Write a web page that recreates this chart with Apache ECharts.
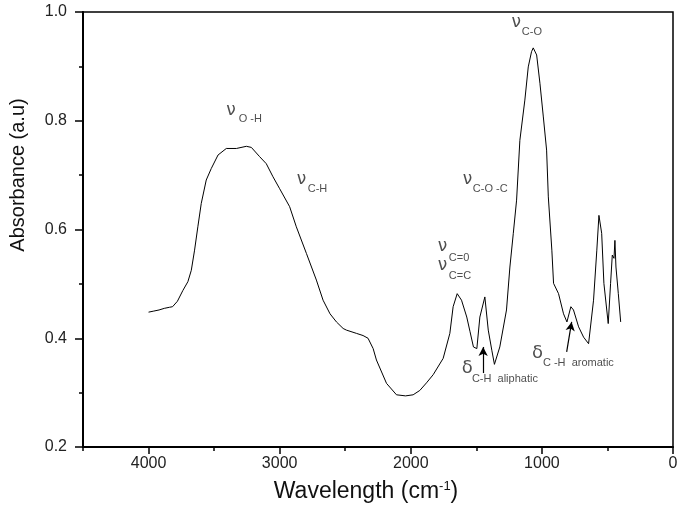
<!DOCTYPE html>
<html><head><meta charset="utf-8">
<script src="https://cdn.jsdelivr.net/npm/echarts@6/dist/echarts.min.js"></script>
<style>html,body{margin:0;padding:0;background:#fff}#c{width:685px;height:510px}</style>
</head><body><div id="c"></div>
<script>
// Wavenumber (cm-1) and absorbance
var wavenumber = [4000, 3960, 3920, 3880, 3840, 3817, 3780, 3738, 3700, 3674, 3649, 3624, 3598, 3560, 3522, 3470, 3407, 3330, 3254, 3216, 3153, 3102, 3051, 3000, 2924, 2873, 2796, 2720, 2669, 2616, 2567, 2516, 2491, 2415, 2364, 2326, 2287, 2262, 2185, 2109, 2040, 1982, 1931, 1880, 1829, 1753, 1702, 1677, 1646, 1613, 1573, 1548, 1522, 1496, 1473, 1435, 1409, 1382, 1362, 1321, 1270, 1244, 1218, 1193, 1168, 1130, 1104, 1079, 1066, 1040, 1015, 989, 964, 951, 924, 911, 873, 835, 809, 779, 759, 720, 682, 644, 606, 581, 565, 544, 527, 494, 476, 463, 450, 443, 435, 417, 399];
var absorbance = [0.448, 0.450, 0.452, 0.455, 0.457, 0.458, 0.468, 0.488, 0.504, 0.525, 0.562, 0.605, 0.648, 0.691, 0.712, 0.737, 0.749, 0.749, 0.753, 0.751, 0.734, 0.721, 0.697, 0.675, 0.642, 0.605, 0.556, 0.507, 0.470, 0.445, 0.430, 0.418, 0.415, 0.409, 0.405, 0.400, 0.381, 0.360, 0.317, 0.296, 0.294, 0.296, 0.304, 0.318, 0.333, 0.363, 0.409, 0.458, 0.482, 0.470, 0.439, 0.412, 0.384, 0.381, 0.439, 0.476, 0.415, 0.378, 0.352, 0.384, 0.452, 0.531, 0.593, 0.654, 0.764, 0.838, 0.899, 0.927, 0.934, 0.921, 0.869, 0.807, 0.746, 0.660, 0.562, 0.501, 0.482, 0.445, 0.430, 0.458, 0.452, 0.421, 0.402, 0.390, 0.470, 0.562, 0.626, 0.593, 0.501, 0.427, 0.501, 0.553, 0.547, 0.580, 0.531, 0.482, 0.430];

// Band annotations: Greek symbol, subscript, anchor positions (data coords)
var annSymbol = ['ν', 'ν', 'ν', 'ν', 'ν', 'ν', 'δ', 'δ'];
var annSub = ['O -H', 'C-H', 'C-O', 'C-O -C', 'C=0', 'C=C', 'C-H  aliphatic', 'C -H  aromatic'];
var annSymX = [3407, 2870, 1231, 1603, 1794, 1794, 1611, 1076];
var annSymY = [0.819, 0.691, 0.980, 0.691, 0.568, 0.534, 0.345, 0.372];
var annSubX = [3313, 2786, 1153, 1527, 1710, 1710, 1534, 992];
var annSubY = [0.803, 0.674, 0.964, 0.674, 0.547, 0.514, 0.325, 0.354];
var annIsDelta = [false, false, false, false, false, false, true, true];

// Arrows: from (x1,y1) to (x2,y2)
var arrowX1 = [1448, 811], arrowY1 = [0.336, 0.375];
var arrowX2 = [1448, 773], arrowY2 = [0.384, 0.430];

var font = 'Liberation Sans, Arial, sans-serif';
var lineData = wavenumber.map(function (w, i) { return [w, absorbance[i]]; });
var symData = annSymbol.map(function (s, i) {
  return { value: [annSymX[i], annSymY[i]], label: { formatter: s, fontSize: annIsDelta[i] ? 18 : 17 } };
});
var subData = annSub.map(function (s, i) {
  return { value: [annSubX[i], annSubY[i]], label: { formatter: s } };
});
var arrowData = arrowX1.map(function (x, i) {
  return [{ coord: [x, arrowY1[i]] }, { coord: [arrowX2[i], arrowY2[i]] }];
});

var chart = echarts.init(document.getElementById('c'), null, { renderer: 'canvas' });
chart.setOption({
  animation: false,
  backgroundColor: '#fff',
  grid: { left: 83, right: 12, top: 12, bottom: 63, show: true, borderColor: '#000', borderWidth: 1.5, backgroundColor: 'transparent' },
  xAxis: [{
    type: 'value', min: 0, max: 4500, interval: 1000, inverse: true,
    name: 'Wavelength (cm{sup|-1})', nameLocation: 'middle', nameGap: 33,
    nameTextStyle: { fontFamily: font, fontSize: 23, color: '#111', padding: [0, 24, 0, 0], rich: { sup: { fontSize: 13, fontFamily: font, color: '#111', padding: [0, 0, 10, 0] } } },
    axisLine: { onZero: false, lineStyle: { color: '#000', width: 2 } },
    axisTick: { show: true, inside: false, length: 7, lineStyle: { color: '#000', width: 1.5 } },
    axisLabel: { fontFamily: font, fontSize: 16, color: '#222', margin: 9, showMaxLabel: false, formatter: function (v) { return String(v); } },
    splitLine: { show: false }
  }, {
    type: 'value', min: 0, max: 4500, interval: 500, inverse: true, position: 'bottom',
    axisLine: { show: false, onZero: false },
    axisTick: { show: true, inside: false, length: 4, lineStyle: { color: '#000', width: 1.5 } },
    axisLabel: { show: false }, splitLine: { show: false }
  }],
  yAxis: [{
    type: 'value', min: 0.2, max: 1.0, interval: 0.2, position: 'left',
    axisLine: { show: true, onZero: false, lineStyle: { color: '#000', width: 2 } },
    axisTick: { show: true, inside: false, length: 8, lineStyle: { color: '#000', width: 1.5 } },
    axisLabel: { fontFamily: font, fontSize: 16, color: '#222', margin: 16, formatter: function (v) { return v.toFixed(1); } },
    splitLine: { show: false }
  }, {
    type: 'value', min: 0.2, max: 1.0, interval: 0.1, position: 'left',
    axisLine: { show: false, onZero: false },
    axisTick: { show: true, inside: false, length: 4, lineStyle: { color: '#000', width: 1.5 } },
    axisLabel: { show: false }, splitLine: { show: false }
  }],
  graphic: [{
    type: 'text', x: 18, y: 175, rotation: Math.PI / 2,
    style: { text: 'Absorbance (a.u)', font: '20px Liberation Sans, Arial, sans-serif', fill: '#111', align: 'center', verticalAlign: 'middle' }
  }],
  series: [{
    type: 'line', data: lineData, showSymbol: false, symbol: 'none', smooth: false,
    lineStyle: { color: '#000', width: 1 }, z: 3,
    markLine: {
      silent: true, symbol: ['none', 'arrow'], symbolSize: [7, 9],
      lineStyle: { color: '#000', width: 1.2, type: 'solid' }, label: { show: false },
      data: arrowData
    }
  }, {
    type: 'scatter', data: symData, symbolSize: 0, silent: true,
    label: { show: true, position: 'inside', align: 'left', verticalAlign: 'middle', fontFamily: 'DejaVu Sans, sans-serif', color: '#222' }
  }, {
    type: 'scatter', data: subData, symbolSize: 0, silent: true,
    label: { show: true, position: 'inside', align: 'left', verticalAlign: 'middle', fontFamily: font, fontSize: 11, color: '#222' }
  }]
});
</script></body></html>
